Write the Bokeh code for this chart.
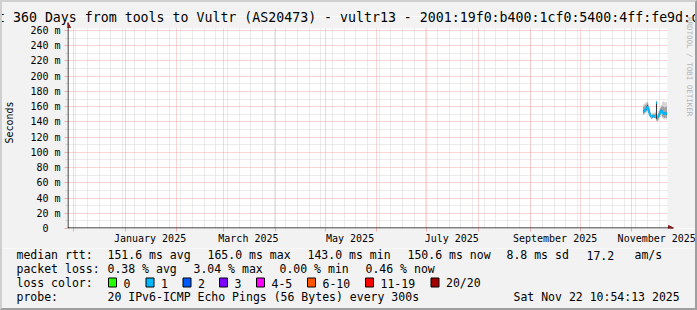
import math
import pandas as pd
from bokeh.plotting import figure
from bokeh.layouts import column
from bokeh.models import (Range1d, FixedTicker, Grid, Label, Arrow, NormalHead, Title,
                          BoxAnnotation, LinearAxis, ColumnDataSource)
from bokeh.embed import file_html
from bokeh.resources import INLINE

MONO = "DejaVu Sans Mono"

# ---------------- data ----------------
graph_end = "2025-11-22 10:54:13"
span_days = 360
step_days = 0.6

times = ["2025-11-08 01:18", "2025-11-08 15:42", "2025-11-09 06:06", "2025-11-09 20:30",
         "2025-11-10 10:54", "2025-11-11 01:18", "2025-11-11 15:42", "2025-11-12 06:06",
         "2025-11-12 20:30", "2025-11-13 10:54", "2025-11-14 01:18", "2025-11-14 15:42",
         "2025-11-15 06:06", "2025-11-15 20:30", "2025-11-16 10:54", "2025-11-17 01:18",
         "2025-11-17 15:42", "2025-11-18 06:06", "2025-11-18 20:30", "2025-11-19 10:54",
         "2025-11-20 01:18", "2025-11-20 15:42", "2025-11-21 06:06", "2025-11-21 20:30"]
median_ms = [153.0, 155.0, 156.5, 158.0, 160.0, 156.0, 151.0, 148.0, 145.0, 147.0, 147.5, 147.0,
             147.5, 165.0, 143.0, 147.0, 150.5, 153.0, 155.5, 152.0, 151.0, 150.5, 152.0, 150.6]
loss_pct = [0.3, 0.2, 0.4, 0.5, 0.3, 0.2, 0.4, 0.2, 0.0, 0.3, 0.4, 0.3,
            0.0, 3.04, 0.0, 0.3, 0.4, 0.2, 0.3, 0.5, 0.4, 0.3, 0.2, 0.46]
smoke_lo = [149, 150, 151, 152, 153, 151, 147, 145, 143, 144, 145, 145,
            144, 141, 141, 142, 144, 146, 147, 145, 144, 143, 144, 143]
smoke_hi = [163, 164, 165, 166, 167, 164, 160, 154, 151, 152, 152, 152,
            153, 168, 150, 154, 158, 160, 162, 166, 167, 166, 165, 166]
mid_lo = [150, 152, 153, 154, 155, 153, 148, 146, 144, 145, 146, 146,
          145, 142, 142, 144, 147, 149, 151, 147, 146, 145, 146, 145]
mid_hi = [160, 161, 162, 163, 165, 161, 157, 152, 149, 150, 150, 150,
          151, 167, 147, 151, 155, 158, 160, 161, 160, 159, 160, 160]
core_lo = [152, 154, 155, 156, 158, 155, 150, 147, 144, 146, 147, 146,
           146, 144, 142, 146, 149, 152, 154, 151, 150, 149, 151, 149]
core_hi = [155, 156, 158, 160, 162, 157, 152, 149, 146, 148, 148, 148,
           148, 165, 144, 148, 152, 154, 157, 153, 152, 152, 153, 152]

pings = 20
loss_labels = ["0", "1", "2", "3", "4-5", "6-10", "11-19", "20/20"]
loss_limits = [0, 1, 2, 3, 5, 10, 19, 20]
loss_colors = ["#26ff00", "#00b8ff", "#0059ff", "#7e00ff", "#ff00ff", "#ff5500", "#ff0000", "#a10000"]

month_starts = ["2024-12-01", "2025-01-01", "2025-02-01", "2025-03-01", "2025-04-01", "2025-05-01",
                "2025-06-01", "2025-07-01", "2025-08-01", "2025-09-01", "2025-10-01", "2025-11-01"]
x_label_dates = ["2025-01-16", "2025-03-16", "2025-05-16", "2025-07-16", "2025-09-16", "2025-11-16"]
x_label_texts = ["January 2025", "March 2025", "May 2025", "July 2025", "September 2025", "November 2025"]

y_ticks = [0, 20, 40, 60, 80, 100, 120, 140, 160, 180, 200, 220, 240, 260]
y_minor = [10, 30, 50, 70, 90, 110, 130, 150, 170, 190, 210, 230, 250]
y_labels = ["0\u00a0\u00a0", "20 m", "40 m", "60 m", "80 m", "100 m", "120 m", "140 m", "160 m",
            "180 m", "200 m", "220 m", "240 m", "260 m"]
y_max = 262.6

title_text = ("Last 360 Days from tools to Vultr (AS20473) - vultr13 - "
              "2001:19f0:b400:1cf0:5400:4ff:fe9d:c4a")
watermark = "RRDTOOL / TOBI OETIKER"
legend_rows = [
    [("median rtt:", 16), ("151.6 ms avg", 107), ("165.0 ms max", 207), ("143.0 ms min", 307),
     ("150.6 ms now", 407), ("8.8 ms sd", 506), ("17.2", 586), ("am/s", 634)],
    [("packet loss:", 16), ("0.38 % avg", 107), ("3.04 % max", 193), ("0.00 % min", 279),
     ("0.46 % now", 365)],
    [("loss color:", 16)],
    [("probe:", 16), ("20 IPv6-ICMP Echo Pings (56 Bytes) every 300s", 107),
     ("Sat Nov 22 10:54:13 2025", 513)],
]
swatch_x = [108, 145.5, 182.5, 219, 256, 307, 365, 430.5]


def ms(s):
    return pd.Timestamp(s).value / 1e6


t_ms = [ms(t) for t in times]
end_ms = ms(graph_end)
day = 86400000.0
start_ms = end_ms - span_days * day
step_ms = step_days * day


def cat_color(p):
    lost = p / 100.0 * pings
    for lim, c in zip(loss_limits, loss_colors):
        if lost <= lim:
            return c
    return loss_colors[-1]


colors = [cat_color(p) for p in loss_pct]

# ---------------- layout (canvas px) ----------------
W = 697
DATA_L, DATA_B = 67, 228           # left / bottom of the rrd data area
DATA_W, DATA_H = 600, 200          # data area of the rrd graph
FT = 16                            # frame top (frame also holds arrows + watermark)
FW = W - DATA_L
FH = DATA_B - FT
EXTRA_R = FW - DATA_W
EXTRA_T = FH - DATA_H
MAIN_H = 248
LEG_H = 62
BG = "#f2f2f2"

px_x = span_days * day / DATA_W
px_y = y_max / DATA_H

p = figure(frame_width=FW, frame_height=FH, title=None,
           min_border_left=DATA_L, min_border_right=0,
           min_border_top=FT, min_border_bottom=MAIN_H - DATA_B,
           x_range=Range1d(start_ms, end_ms + EXTRA_R * px_x),
           y_range=Range1d(0, y_max + EXTRA_T * px_y),
           x_axis_type=None, y_axis_type=None,
           output_backend="svg", toolbar_location=None,
           background_fill_color="white", border_fill_color=BG,
           outline_line_color=None)

GRAY = "#d6d6d6"
RED = "#f2abab"

week_ticks = [pd.Timestamp(d).value / 1e6 for d in
              pd.date_range(pd.Timestamp(start_ms, unit="ms"), pd.Timestamp(end_ms, unit="ms"), freq="W-MON")]
month_ms = [ms(d) for d in month_starts]

p.add_layout(Grid(dimension=0, ticker=FixedTicker(ticks=week_ticks),
                  grid_line_color=GRAY, grid_line_dash="1 1"))
p.add_layout(Grid(dimension=1, ticker=FixedTicker(ticks=y_minor),
                  grid_line_color=GRAY, grid_line_dash="1 1"))
p.add_layout(Grid(dimension=0, ticker=FixedTicker(ticks=month_ms),
                  grid_line_color=RED, grid_line_dash="1 1"))
p.add_layout(Grid(dimension=1, ticker=FixedTicker(ticks=y_ticks[1:]),
                  grid_line_color=RED, grid_line_dash="1 1"))
# image background outside the rrd data area
p.add_layout(BoxAnnotation(left=end_ms, fill_color=BG, fill_alpha=1, line_color=None, level="underlay"))
p.add_layout(BoxAnnotation(bottom=y_max, fill_color=BG, fill_alpha=1, line_color=None, level="underlay"))

# axes (axis lines drawn by the arrows below)
label_ms = [int(ms(d)) for d in x_label_dates]
xaxis = LinearAxis(ticker=FixedTicker(ticks=label_ms, minor_ticks=month_ms),
                   major_label_overrides={k: v for k, v in zip(label_ms, x_label_texts)},
                   major_tick_line_color=None, major_tick_out=0, major_tick_in=0,
                   minor_tick_line_color=RED, minor_tick_out=3, minor_tick_in=0,
                   axis_line_color=None,
                   major_label_text_font=MONO, major_label_text_font_size="10px",
                   major_label_text_color="black", major_label_standoff=1)
p.add_layout(xaxis, "below")

yaxis = LinearAxis(ticker=FixedTicker(ticks=y_ticks, minor_ticks=y_minor),
                   major_label_overrides={k: v for k, v in zip(y_ticks, y_labels)},
                   major_tick_line_color=RED, major_tick_out=3, major_tick_in=0,
                   minor_tick_line_color=GRAY, minor_tick_out=2, minor_tick_in=0,
                   axis_line_color=None,
                   major_label_text_font=MONO, major_label_text_font_size="10px",
                   major_label_text_color="black", major_label_standoff=4,
                   axis_label="Seconds", axis_label_text_font=MONO,
                   axis_label_text_font_size="10px", axis_label_text_font_style="normal",
                   axis_label_text_color="black", axis_label_standoff=12)
p.add_layout(yaxis, "left")

# smoke
src = ColumnDataSource(dict(t=t_ms, lo=smoke_lo, hi=smoke_hi,
                            mlo=mid_lo, mhi=mid_hi, clo=core_lo, chi=core_hi))
bw = step_ms * 1.05
p.vbar(x="t", width=bw, bottom="lo", top="hi", source=src, fill_color="#d6d6d6", line_color=None)
p.vbar(x="t", width=bw, bottom="mlo", top="mhi", source=src, fill_color="#a2a2a2", line_color=None)
p.vbar(x="t", width=bw, bottom="clo", top="chi", source=src, fill_color="#333333", line_color=None)

# median line coloured by loss (connect only neighbours of the same loss colour)
x0, y0, x1, y1, sc = [], [], [], [], []
for i in range(len(t_ms) - 1):
    if colors[i] == colors[i + 1]:
        x0.append(t_ms[i]); y0.append(median_ms[i])
        x1.append(t_ms[i + 1]); y1.append(median_ms[i + 1]); sc.append(colors[i])
p.segment(x0=x0, y0=y0, x1=x1, y1=y1, line_color=sc, line_width=2)
p.segment(x0=[t - step_ms / 2 for t in t_ms], y0=median_ms,
          x1=[t + step_ms / 2 for t in t_ms], y1=median_ms, line_color=colors, line_width=2)

# axis lines with arrows
AR = "#8b1a1a"
p.add_layout(Arrow(end=NormalHead(size=5, fill_color=AR, line_color=AR, line_width=1),
                   x_start=start_ms, y_start=0.5 * px_y, x_end=end_ms + 6 * px_x, y_end=0.5 * px_y,
                   line_color="black", line_width=1))
p.add_layout(Arrow(end=NormalHead(size=5, fill_color=AR, line_color=AR, line_width=1),
                   x_start=start_ms + 0.5 * px_x, y_start=0, x_end=start_ms + 0.5 * px_x,
                   y_end=y_max + 6 * px_y, line_color="black", line_width=1))

# title (above panel, may overlap the top of the frame) and watermark
p.add_layout(Title(text=title_text, align="left", offset=-94.4, standoff=-16,
                   text_font=MONO, text_font_size="13.25px", text_font_style="normal",
                   text_color="black"), "above")
p.add_layout(Label(x=688.5 - DATA_L, y=DATA_B - 16.5, x_units="screen", y_units="screen",
                   text=watermark, angle=-math.pi / 2, text_align="left", text_baseline="middle",
                   text_font=MONO, text_font_size="7.5px", text_color="#b4b4b4"))

# ---------------- legend area ----------------
leg = figure(width=W, height=LEG_H, min_border=0, x_range=Range1d(0, W), y_range=Range1d(LEG_H, 0),
             x_axis_type=None, y_axis_type=None, output_backend="svg", toolbar_location=None,
             background_fill_color=BG, border_fill_color=BG, outline_line_color=None)
leg.xgrid.visible = False
leg.ygrid.visible = False

for fig in (p, leg):
    try:
        fig.frame_align = False
    except Exception:
        pass

row_base = [254.5, 268.5, 282.5, 296.5]
for row, yb in zip(legend_rows, row_base):
    for txt, xl in row:
        leg.add_layout(Label(x=xl, y=yb - MAIN_H, text=txt,
                             text_font=MONO, text_font_size="11.5px", text_align="left",
                             text_baseline="alphabetic", text_color="black"))
sw_top = 277.5 - MAIN_H
leg.quad(left=swatch_x, right=[x + 8 for x in swatch_x], top=[sw_top] * len(swatch_x),
         bottom=[sw_top + 9] * len(swatch_x), fill_color=loss_colors, line_color="black", line_width=1)
for xs, lab in zip(swatch_x, loss_labels):
    leg.add_layout(Label(x=xs + 15, y=row_base[2] - MAIN_H, text=lab,
                         text_font=MONO, text_font_size="11.5px", text_align="left",
                         text_baseline="alphabetic", text_color="black"))

css = """
:host { position: relative; }
:host::after { content: ""; position: absolute; left: 0; top: 0; width: 697px; height: 310px;
  box-sizing: border-box; border-style: solid; border-width: 2px;
  border-color: #cfcfcf #9e9e9e #9e9e9e #cfcfcf; pointer-events: none; z-index: 100; }
"""
layout = column(p, leg, spacing=0, stylesheets=[css])

open("out.html", "w").write(file_html(layout, INLINE))
